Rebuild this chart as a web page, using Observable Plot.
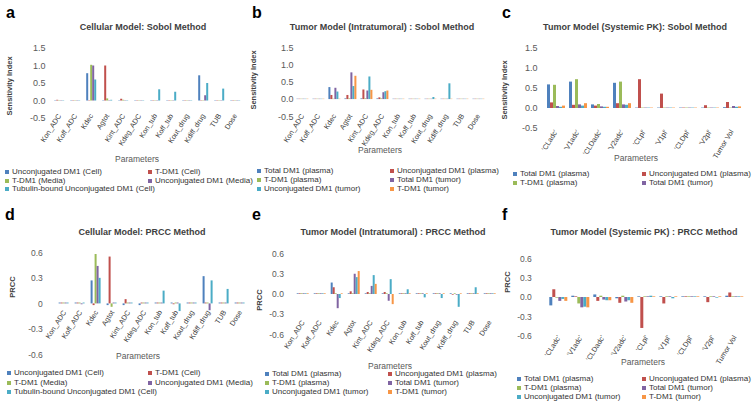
<!DOCTYPE html>
<html><head><meta charset="utf-8">
<script src="https://cdn.jsdelivr.net/npm/d3@7"></script>
<script src="https://cdn.jsdelivr.net/npm/@observablehq/plot@0.6"></script>
<style>
body{margin:0;background:#fff;font-family:"Liberation Sans",Arial,sans-serif;}
#root{position:relative;width:754px;height:406px;overflow:hidden;background:#fff;}
.abs{position:absolute;white-space:nowrap;}
.letter{font-weight:bold;font-size:16px;color:#000;line-height:16px;}
.title{font-weight:bold;font-size:9px;color:#404040;transform:translate(-50%,-50%);line-height:9px;}
.ytitle{font-weight:bold;font-size:7.5px;color:#404040;transform:translate(-50%,-50%) rotate(-90deg);line-height:8px;}
.xtitle{font-size:8.5px;color:#595959;transform:translate(-50%,-50%);line-height:9px;}
.leg{font-size:8px;color:#333;transform:translateY(-50%);line-height:8px;display:flex;align-items:center;}
.leg i{display:inline-block;width:4px;height:4px;margin-right:3px;}
svg{position:absolute;}
</style></head><body><div id="root"></div>
<script>
// ---- categories ----
const cellParams = ["Kon_ADC","Koff_ADC","Kdec","Agtot","Kint_ADC","Kdeg_ADC","Kon_tub","Koff_tub","Kout_drug","Kdiff_drug","TUB","Dose"];
const intraParams = ["Kon_ADC","Koff_ADC","Kdec","Agtot","Kint_ADC","Kdeg_ADC","Kon_tub","Koff_tub","Kout_drug","Kdiff_drug","TUB","Dose"];
const pkParams = ["'CLadc'","'V1adc'","'CLDadc'","'V2adc'","'CLpl'","'V1pl'","'CLDpl'","'V2pl'","Tumor Vol"];

// ---- series ----
const cellSeries = ["Unconjugated DM1 (Cell)","T-DM1 (Cell)","T-DM1 (Media)","Unconjugated DM1 (Media)","Tubulin-bound Unconjugated DM1 (Cell)"];
const tumorSeries = ["Total DM1 (plasma)","Unconjugated DM1 (plasma)","T-DM1 (plasma)","Total DM1 (tumor)","Unconjugated DM1 (tumor)","T-DM1 (tumor)"];
const cellColors = ["#4F81BD","#C0504D","#9BBB59","#8064A2","#4BACC6"];
const tumorColors = ["#4F81BD","#C0504D","#9BBB59","#8064A2","#4BACC6","#F79646"];

// ---- tick labels ----
const sobolTicks = [-0.5, 0, 0.5, 1.0, 1.5];
const prccTicks = [-0.6, -0.3, 0, 0.3, 0.6];

// ---- values (rows = series, columns = parameters) ----
const sobolCell = [
  [0.01,0.01,0.78,0.01,0.01,0.01,0.01,0.01,0.01,0.72,0.01,0.01],
  [0.02,0.01,0.01,1.00,0.05,0.01,0.01,0.01,0.01,0.01,0.01,0.01],
  [0.01,0.01,1.02,0.06,0.02,0.01,0.01,0.01,0.01,0.01,0.01,0.01],
  [0.01,0.01,1.00,0.01,0.01,0.01,0.01,0.01,0.01,0.15,0.01,0.01],
  [0.01,0.01,0.60,0.02,0.01,0.01,0.32,0.25,0.01,0.50,0.34,0.01]
];
const sobolIntra = [
  [0.01,0.01,0.35,0.02,0.02,0.02,0.01,0.01,0.01,0.01,0.01,0.01],
  [0.01,0.01,0.12,0.12,0.28,0.05,0.01,0.01,0.01,0.01,0.01,0.01],
  [0.01,0.01,0.01,0.02,0.02,0.02,0.01,0.01,0.01,0.01,0.01,0.01],
  [0.01,0.01,0.33,0.78,0.25,0.20,0.01,0.01,0.01,0.01,0.01,0.01],
  [0.01,0.01,0.22,0.38,0.66,0.23,0.01,0.01,0.06,0.46,0.01,0.01],
  [0.01,0.01,0.01,0.68,0.27,0.25,0.01,0.01,0.01,0.01,0.01,0.01]
];
const sobolPK = [
  [0.59,0.66,0.09,0.63,0.01,0.01,0.01,0.01,0.02],
  [0.14,0.08,0.06,0.12,0.72,0.36,0.01,0.07,0.15],
  [0.58,0.72,0.10,0.66,0.01,0.01,0.01,0.01,0.01],
  [0.05,0.09,0.04,0.09,0.01,0.01,0.01,0.01,0.05],
  [0.03,0.06,0.03,0.08,0.01,0.01,0.01,0.01,0.03],
  [0.06,0.12,0.03,0.12,0.01,0.01,0.01,0.01,0.04]
];
const prccCell = [
  [0.01,0.01,0.27,-0.02,-0.02,-0.02,0.01,0.01,0.01,0.32,0.01,0.01],
  [0.01,0.01,-0.02,0.55,0.05,0.01,0.01,-0.01,0.01,0.01,0.01,0.01],
  [0.01,0.01,0.58,-0.04,0.01,0.01,0.01,0.01,0.01,0.01,0.01,0.01],
  [0.01,-0.01,0.44,0.01,0.01,0.01,0.01,0.01,0.01,-0.08,0.01,0.01],
  [0.01,0.01,0.30,0.01,0.01,0.01,0.15,-0.09,0.01,0.27,0.17,0.01]
];
const prccIntra = [
  [0.01,0.01,0.17,0.01,0.01,0.01,0.01,0.01,0.01,0.01,0.01,0.01],
  [0.01,0.01,0.10,0.04,0.03,0.03,0.01,0.01,0.01,-0.01,0.01,0.01],
  [0.01,0.01,0.01,0.01,0.01,0.01,0.01,0.01,0.01,0.01,0.01,0.01],
  [0.01,0.01,-0.21,0.30,0.12,-0.10,0.01,0.01,0.01,-0.01,0.01,0.01],
  [0.01,0.01,-0.06,0.25,0.28,0.22,0.07,-0.05,-0.06,-0.19,0.10,0.01],
  [0.01,0.01,0.01,0.34,0.15,-0.15,0.01,0.01,0.01,0.01,0.01,0.01]
];
const prccPK = [
  [-0.13,0.02,0.04,-0.02,0.01,0.01,0.01,0.01,0.02],
  [0.12,0.01,-0.06,-0.09,-0.48,-0.10,0.01,-0.08,0.07],
  [-0.01,-0.10,0.02,0.02,0.01,0.01,0.01,0.01,0.01],
  [-0.06,-0.16,-0.04,-0.07,0.01,0.01,0.01,0.01,0.01],
  [-0.03,-0.15,-0.05,-0.05,0.02,-0.02,0.01,-0.01,0.01],
  [-0.06,-0.16,-0.05,-0.09,0.01,0.01,0.01,0.01,0.01]
];

const fmt1 = d => d.toFixed(1);
const fmtPrccCell = d => d === 0 ? "0" : d.toFixed(1);

const panels = [
  {letter:"a", lx:6, ly:4.8, title:"Cellular Model: Sobol Method", tx:143, ty:27,
   params:cellParams, series:cellSeries, colors:cellColors, values:sobolCell,
   ytitle:"Sensitivity Index", yx:10, yy:86, xt:[137,159],
   left:0, top:40, w:250, h:112, mt:8, fb:78, ml:47.8, mr:4.3, tp:7, fxdy:-6,
   domain:[-0.5,1.5], ticks:sobolTicks, fmt:fmt1, yfs:9,
   legRows:[172,180.5,189], legCols:[5,148], legN:5},
  {letter:"b", lx:252, ly:4.8, title:"Tumor Model (Intratumoral) :  Sobol Method", tx:382, ty:27,
   params:intraParams, series:tumorSeries, colors:tumorColors, values:sobolIntra,
   ytitle:"Sensitivity Index", yx:254, yy:80, xt:[380,150],
   left:250, top:40, w:250, h:110, mt:7.7, fb:76.2, ml:42.6, mr:12, tp:2, fxdy:-4,
   domain:[-0.5,1.5], ticks:sobolTicks, fmt:fmt1, yfs:9,
   legRows:[171,180,189], legCols:[257,390], legN:6},
  {letter:"c", lx:502, ly:4.8, title:"Tumor Model (Systemic PK): Sobol Method", tx:635, ty:27,
   params:pkParams, series:tumorSeries, colors:tumorColors, values:sobolPK,
   ytitle:"Sensitivity Index", yx:505, yy:90, xt:[636,158],
   left:500, top:40, w:250, h:123, mt:8, fb:88, ml:43, mr:6, tp:9, fxdy:0,
   domain:[-0.5,1.5], ticks:sobolTicks, fmt:fmt1, yfs:9,
   legRows:[174,183], legCols:[513,642], legN:4},
  {letter:"d", lx:5, ly:206.5, title:"Cellular Model: PRCC Method", tx:142, ty:232,
   params:cellParams, series:cellSeries, colors:cellColors, values:prccCell,
   ytitle:"PRCC", yx:12.5, yy:287, xt:[138,356],
   left:0, top:240, w:254, h:125, mt:12.3, fb:114.5, ml:51.4, mr:1.4, tp:14.7, fxdy:-46,
   domain:[-0.6,0.6], ticks:prccTicks, fmt:fmtPrccCell, yfs:8.5,
   legRows:[373,382.7,392.3], legCols:[7,148], legN:5},
  {letter:"e", lx:252, ly:206.5, title:"Tumor Model (Intratumoral) : PRCC Method", tx:393, ty:232,
   params:intraParams, series:tumorSeries, colors:tumorColors, values:prccIntra,
   ytitle:"PRCC", yx:260, yy:300, xt:[390,366],
   left:250, top:240, w:250, h:110, mt:13.5, fb:94.5, ml:44.3, mr:1.7, tp:11.6, fxdy:-16,
   domain:[-0.6,0.6], ticks:prccTicks, fmt:fmt1, yfs:8.5,
   legRows:[374,383,392], legCols:[265,388], legN:6},
  {letter:"f", lx:502, ly:206.5, title:"Tumor Model (Systemic PK) : PRCC Method", tx:644, ty:232,
   params:pkParams, series:tumorSeries, colors:tumorColors, values:prccPK,
   ytitle:"PRCC", yx:508, yy:282, xt:[643,362],
   left:500, top:240, w:250, h:110, mt:18.3, fb:95.7, ml:47.7, mr:5, tp:17.7, fxdy:-2,
   domain:[-0.6,0.6], ticks:prccTicks, fmt:fmt1, yfs:8.5,
   legRows:[379,388,397], legCols:[517,642], legN:6}
];

const root = document.getElementById("root");
function addDiv(cls, text, x, y) {
  const d = document.createElement("div");
  d.className = "abs " + cls;
  d.textContent = text;
  d.style.left = x + "px";
  d.style.top = y + "px";
  root.appendChild(d);
  return d;
}

for (const p of panels) {
  const data = [];
  p.series.forEach((s, si) => p.params.forEach((c, ci) => data.push({param: c, series: s, value: p.values[si][ci]})));
  const svg = Plot.plot({
    width: p.w, height: p.h,
    marginTop: p.mt, marginBottom: p.h - p.fb, marginLeft: p.ml, marginRight: p.mr,
    style: {background: "transparent", overflow: "visible", fontFamily: "Liberation Sans, Arial, sans-serif"},
    fx: {domain: p.params, padding: 0.14, label: null},
    x: {domain: p.series, padding: 0.04, axis: null},
    y: {domain: p.domain},
    color: {domain: p.series, range: p.colors},
    marks: [
      Plot.barY(data, {fx: "param", x: "series", y: "value", fill: "series"}),
      Plot.axisY({ticks: p.ticks, tickFormat: p.fmt, tickSize: 0, tickPadding: p.tp, fontSize: p.yfs, color: "#595959", label: null}),
      Plot.axisFx({anchor: "bottom", tickRotate: -58, tickSize: 0, tickPadding: 2, dy: p.fxdy, fontSize: 7.2, color: "#404040", label: null})
    ]
  });
  svg.style.left = p.left + "px";
  svg.style.top = p.top + "px";
  root.appendChild(svg);

  addDiv("letter", p.letter, p.lx, p.ly);
  addDiv("title", p.title, p.tx, p.ty);
  addDiv("ytitle", p.ytitle, p.yx, p.yy);
  addDiv("xtitle", "Parameters", p.xt[0], p.xt[1]);
  for (let i = 0; i < p.legN; i++) {
    const row = Math.floor(i / 2), col = i % 2;
    const d = document.createElement("div");
    d.className = "abs leg";
    d.style.left = p.legCols[col] + "px";
    d.style.top = p.legRows[row] + "px";
    const sw = document.createElement("i");
    sw.style.background = p.colors[i];
    d.appendChild(sw);
    d.appendChild(document.createTextNode(p.series[i]));
    root.appendChild(d);
  }
}
</script>
</body></html>
